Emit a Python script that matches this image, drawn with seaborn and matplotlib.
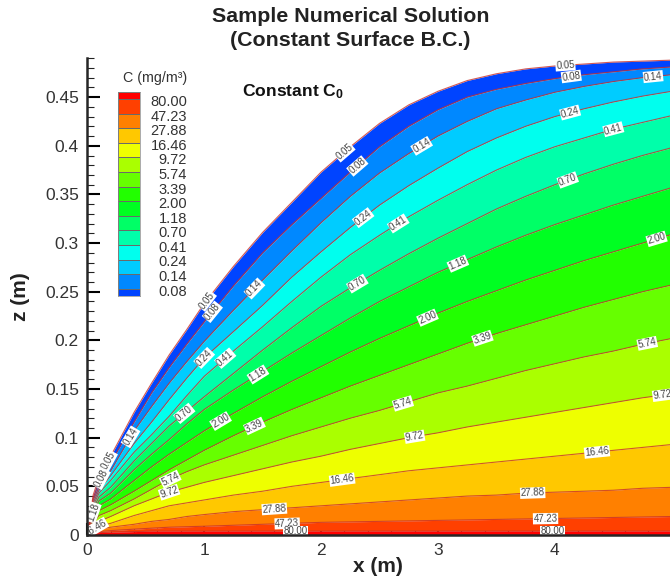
import numpy as np
import pandas as pd
import seaborn as sns
import matplotlib.pyplot as plt
from matplotlib.colors import ListedColormap
from matplotlib.ticker import MultipleLocator

# contour heights z(m) at each x(m)
x_grid = [0, 0.05, 0.1, 0.2, 0.4, 0.55, 0.7, 0.85, 1, 1.25, 1.5, 1.75, 2, 2.25, 2.5, 2.75, 3, 3.25, 3.5, 3.75, 4, 4.25, 4.5, 4.75, 5]

z_005 = [0, .041, .059, .081, .126, .156, .185, .211, .238, .276, .311, .342, .373, .399, .423, .442, .456, .467, .474, .479, .482, .484, .486, .487, .488]
z_008 = [0, .038, .054, .074, .116, .146, .172, .196, .219, .256, .290, .319, .346, .373, .399, .420, .437, .450, .458, .464, .469, .473, .476, .479, .481]
z_014 = [0, .036, .049, .066, .107, .132, .156, .178, .199, .231, .262, .292, .321, .348, .372, .392, .410, .425, .438, .447, .455, .461, .466, .470, .473]
z_024 = [0, .033, .046, .061, .094, .116, .139, .161, .182, .209, .236, .265, .291, .316, .339, .359, .377, .394, .408, .420, .430, .438, .445, .451, .456]
z_041 = [0, .030, .043, .056, .085, .103, .122, .143, .163, .189, .214, .240, .265, .288, .308, .327, .344, .360, .375, .388, .399, .408, .417, .424, .431]
z_070 = [0, .027, .039, .049, .076, .094, .112, .127, .142, .166, .190, .213, .235, .254, .272, .289, .305, .320, .335, .348, .360, .371, .381, .390, .398]
z_118 = [0, .023, .035, .043, .067, .083, .098, .114, .129, .149, .168, .187, .205, .223, .240, .255, .270, .283, .296, .308, .319, .329, .339, .348, .357]
z_200 = [0, .019, .030, .037, .056, .070, .083, .095, .107, .125, .142, .158, .173, .188, .202, .215, .228, .240, .251, .262, .272, .282, .291, .300, .309]
z_339 = [0, .015, .025, .031, .045, .056, .067, .077, .087, .102, .116, .129, .141, .153, .164, .175, .186, .197, .207, .216, .225, .234, .242, .250, .257]
z_574 = [0, .012, .020, .025, .037, .047, .057, .065, .072, .082, .092, .102, .111, .120, .128, .137, .146, .153, .161, .169, .176, .183, .189, .196, .202]
z_972 = [0, .009, .014, .019, .030, .037, .044, .049, .054, .061, .068, .075, .081, .088, .094, .100, .105, .111, .116, .121, .126, .131, .136, .141, .145]
z_1646 = [0, .006, .009, .012, .020, .025, .030, .033, .036, .041, .045, .050, .054, .058, .062, .066, .069, .072, .075, .078, .081, .084, .087, .090, .093]
z_2788 = [0, .004, .006, .008, .011, .014, .016, .019, .021, .024, .026, .028, .030, .032, .034, .036, .038, .040, .041, .043, .044, .045, .046, .048, .049]
z_4723 = [0, .003, .0036, .0045, .006, .007, .008, .0085, .009, .010, .011, .012, .013, .0135, .014, .0145, .015, .0155, .016, .0165, .017, .0175, .018, .0185, .019]
z_8000 = [0, .002, .0025, .003, .0035, .004, .004, .004, .004, .004, .004, .004, .004, .004, .004, .004, .004, .004, .004, .004, .004, .004, .004, .004, .004]

level_names = ["0.05", "0.08", "0.14", "0.24", "0.41", "0.70", "1.18", "2.00",
               "3.39", "5.74", "9.72", "16.46", "27.88", "47.23", "80.00"]
level_z = [z_005, z_008, z_014, z_024, z_041, z_070, z_118, z_200,
           z_339, z_574, z_972, z_1646, z_2788, z_4723, z_8000]

# band above each level, last one is the band under 80.00
band_colors = ["#0044ff", "#0088ff", "#00ccff", "#00ffee", "#00ffaa", "#00ff66", "#00ff22", "#22ff00",
               "#66ff00", "#aaff00", "#eeff00", "#ffc800", "#ff8000", "#ff4000", "#ff0000"]

# where the in-line labels sit along x
label_x = {
    "0.05": [0.18, 1.02, 2.20, 4.09],
    "0.08": [0.12, 1.07, 2.31, 4.14],
    "0.14": [0.37, 1.43, 2.86, 4.84],
    "0.24": [1.00, 2.36, 4.13],
    "0.41": [1.18, 2.66, 4.50],
    "0.70": [0.83, 2.31, 4.11],
    "1.18": [0.05, 1.46, 3.17],
    "2.00": [1.14, 2.91, 4.87],
    "3.39": [1.43, 3.38],
    "5.74": [0.71, 2.70, 4.79],
    "9.72": [0.70, 2.80, 4.92],
    "16.46": [0.07, 2.18, 4.36],
    "27.88": [1.60, 3.81],
    "47.23": [1.71, 3.92],
    "80.00": [1.78, 3.98],
}

sns.set_theme(style="ticks")
plt.rcParams["font.family"] = ["Liberation Sans", "DejaVu Sans"]
plt.rcParams["mathtext.fontset"] = "custom"
plt.rcParams["mathtext.bf"] = "Liberation Sans:bold"

W, H = 670, 581
fig = plt.figure(figsize=(W / 100, H / 100), dpi=100)
ax = fig.add_axes([87.3 / W, 1 - 535 / H, (W - 87.3) / W, (535 - 58) / H])

# filled bands between neighbouring contours
bottom = np.zeros(len(x_grid))
for i in range(len(level_z)):
    upper = np.array(level_z[i])
    lower = np.array(level_z[i + 1]) if i + 1 < len(level_z) else bottom
    ax.fill_between(x_grid, lower, upper, color=band_colors[i], lw=0, zorder=1)

df = pd.DataFrame({
    "x": np.tile(x_grid, len(level_names)),
    "z": np.concatenate(level_z),
    "level": np.repeat(level_names, len(x_grid)),
})
sns.lineplot(data=df, x="x", y="z", units="level", estimator=None, sort=False,
             color="#c8302a", lw=0.8, alpha=0.8, ax=ax, zorder=2)

ax.set_xlim(0, (W - 87.3) / 116.9)
ax.set_ylim(0, 0.4902)

# contour labels follow the slope of their curve on screen
for name, zs in zip(level_names, level_z):
    for lx in label_x[name]:
        lz = np.interp(lx, x_grid, zs)
        p0 = ax.transData.transform((lx - 0.04, np.interp(lx - 0.04, x_grid, zs)))
        p1 = ax.transData.transform((lx + 0.04, np.interp(lx + 0.04, x_grid, zs)))
        ang = np.degrees(np.arctan2(p1[1] - p0[1], p1[0] - p0[0]))
        ax.text(lx, lz, name, fontsize=7, color="#444444", ha="center", va="center",
                rotation=ang, rotation_mode="anchor", zorder=3, clip_on=True,
                bbox=dict(boxstyle="square,pad=0.06", fc="white", ec="none"))

ax.set_xticks([0, 1, 2, 3, 4])
ax.set_xticklabels(["0", "1", "2", "3", "4"])
ax.set_yticks([0, 0.05, 0.1, 0.15, 0.2, 0.25, 0.3, 0.35, 0.4, 0.45])
ax.set_yticklabels(["0", "0.05", "0.1", "0.15", "0.2", "0.25", "0.3", "0.35", "0.4", "0.45"])
ax.xaxis.set_minor_locator(MultipleLocator(0.2))
ax.yaxis.set_minor_locator(MultipleLocator(0.01))
ax.tick_params(which="major", direction="in", length=9, width=1.5, color="black",
               labelsize=12.5, labelcolor="#333333", pad=6)
ax.tick_params(which="minor", direction="in", length=5, width=0.8, color="#222222")
ax.set_xlabel("")
ax.set_ylabel("")
sns.despine(ax=ax)
for side in ["left", "bottom"]:
    ax.spines[side].set_linewidth(1.8)
    ax.spines[side].set_zorder(5)

fig.text(351 / W, 1 - 17 / H, "Sample Numerical Solution", fontsize=15.4, fontweight="bold",
         ha="center", va="center", color="#222222")
fig.text(350 / W, 1 - 41 / H, "(Constant Surface B.C.)", fontsize=15.4, fontweight="bold",
         ha="center", va="center", color="#222222")
fig.text(378 / W, 1 - 566 / H, "x (m)", fontsize=15, fontweight="bold", ha="center", va="center", color="#222222")
fig.text(20 / W, 1 - 297 / H, "z (m)", fontsize=15, fontweight="bold", ha="center", va="center",
         rotation=90, color="#222222")
fig.text(242 / W, 1 - 92 / H, r"Constant C$\mathbf{_0}$", fontsize=12.6, fontweight="bold",
         ha="left", va="center", color="#111111")

# colour legend
ax_leg = fig.add_axes([117.7 / W, 1 - 296 / H, 22.3 / W, 204.3 / H])
edges = np.concatenate([[-0.5], np.arange(0, 14), [13.5]])
ax_leg.pcolormesh([0, 1], edges, np.arange(15).reshape(-1, 1),
                  cmap=ListedColormap(band_colors), edgecolors="#6a6a6a", linewidth=0.4)
ax_leg.set_xlim(0, 1)
ax_leg.set_ylim(-0.5, 13.5)
ax_leg.set_xticks([])
ax_leg.yaxis.tick_right()
ax_leg.set_yticks(np.arange(14) - 0.1)
ax_leg.set_yticklabels(level_names[1:], fontsize=10.5, ha="right", color="#333333")
ax_leg.tick_params(axis="y", length=0, pad=34)
for s in ax_leg.spines.values():
    s.set_linewidth(0.5)
    s.set_color("#888888")
fig.text(155 / W, 1 - 78 / H, "C (mg/m³)", fontsize=10.3, ha="center", va="center", color="#333333")

fig.savefig("out.png", dpi=100)
